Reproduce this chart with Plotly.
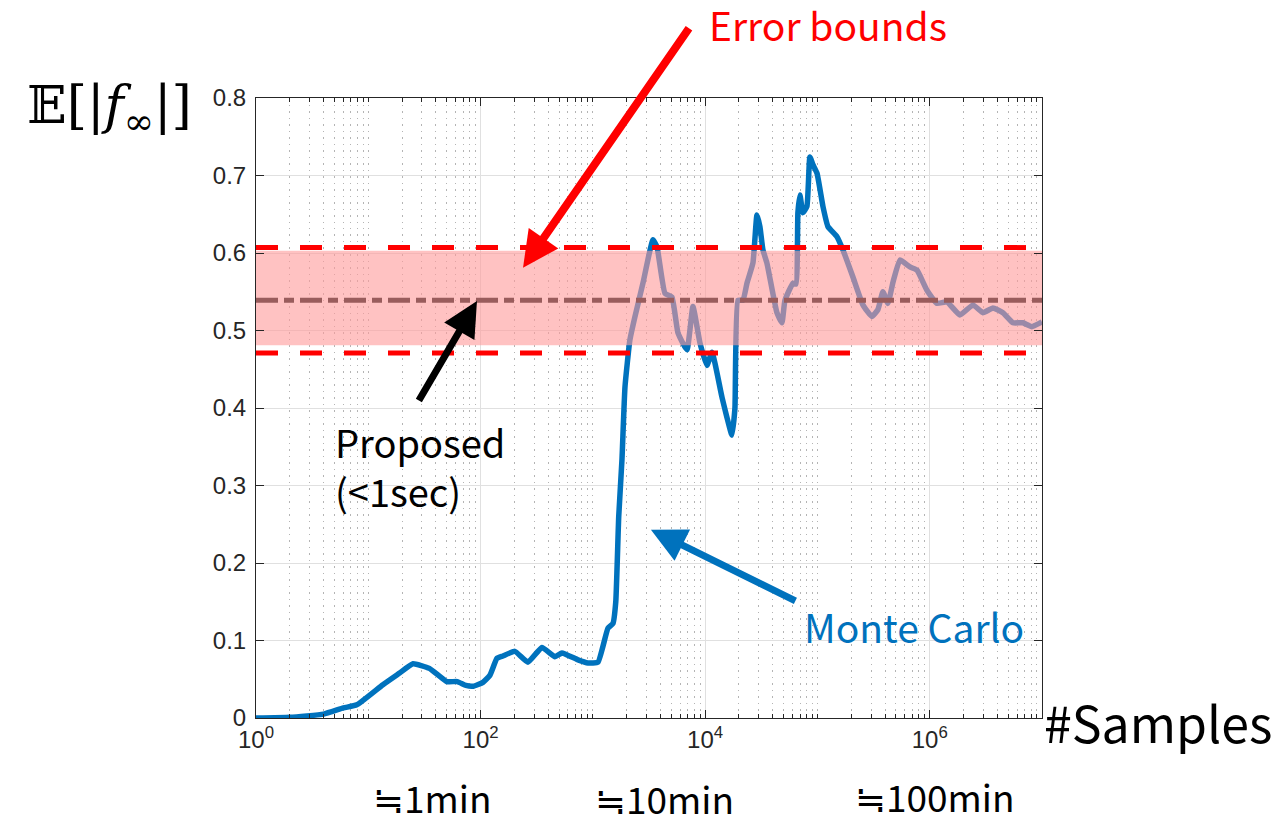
import plotly.graph_objects as go

# ---------------- data ----------------
samples = [1, 2.0, 4.0, 6.0, 7.9, 13.5, 19, 25, 35, 50, 62, 74, 86, 105, 121, 140, 158,
           202, 264, 352, 460, 531, 737, 904, 1110, 1363, 1510, 1600, 1700, 1816, 1932,
           2138, 2371, 2793, 3430, 3723, 4385, 5062, 5728, 6887, 7787, 8990, 10380,
           11510, 14120, 17330, 18420, 19590, 21720, 23570, 26650, 28930, 30760, 32710,
           35500, 43570, 48290, 51380, 60540, 64400, 67000, 69850, 74300, 80600, 85700,
           91200, 99100, 112000, 124100, 149300, 168700, 207100, 254200, 305600, 345800,
           383000, 424500, 470200, 543000, 666500, 769400, 944400, 1159000, 1422000,
           1858000, 2427000, 2978000, 3655000, 4487000, 5508000, 6761000, 8128000, 10000000]
monte_carlo = [0.000, 0.001, 0.005, 0.013, 0.017, 0.043, 0.058, 0.070, 0.064, 0.047, 0.047,
               0.042, 0.041, 0.046, 0.055, 0.077, 0.080, 0.086, 0.072, 0.091, 0.079, 0.084,
               0.075, 0.071, 0.072, 0.116, 0.122, 0.150, 0.260, 0.333, 0.427, 0.488, 0.518,
               0.561, 0.617, 0.608, 0.548, 0.543, 0.497, 0.475, 0.531, 0.484, 0.455, 0.472,
               0.414, 0.365, 0.400, 0.539, 0.539, 0.561, 0.587, 0.649, 0.634, 0.604, 0.587,
               0.523, 0.510, 0.539, 0.561, 0.560, 0.652, 0.675, 0.652, 0.660, 0.724, 0.714,
               0.703, 0.660, 0.634, 0.621, 0.604, 0.569, 0.533, 0.518, 0.527, 0.550, 0.535,
               0.562, 0.591, 0.582, 0.578, 0.552, 0.535, 0.537, 0.520, 0.533, 0.523, 0.529,
               0.523, 0.510, 0.510, 0.505, 0.511]

x_span = [1, 10000000]
proposed = [0.539, 0.539]
bound_upper = [0.607, 0.607]
bound_lower = [0.471, 0.471]
band_upper = [0.603, 0.603]
band_lower = [0.481, 0.481]

x_tickvals = [1, 100, 10000, 1000000]
x_ticktext = ["10<sup>0</sup>", "10<sup>2</sup>", "10<sup>4</sup>", "10<sup>6</sup>"]
y_tickvals = [0, 0.1, 0.2, 0.3, 0.4, 0.5, 0.6, 0.7, 0.8]
y_ticktext = ["0", "0.1", "0.2", "0.3", "0.4", "0.5", "0.6", "0.7", "0.8"]
time_labels = ["≒1min", "≒10min", "≒100min"]

BLUE = "#0072BD"
RED = "#FF0000"
TXT = "#262626"
JP = "Noto Sans CJK JP"

fig = go.Figure()

fig.add_trace(go.Scatter(x=samples, y=monte_carlo, mode="lines",
                         line=dict(color=BLUE, width=5.5, shape="spline", smoothing=0.4),
                         showlegend=False))
fig.add_trace(go.Scatter(x=x_span, y=proposed, mode="lines",
                         line=dict(color="black", width=5, dash="22px,6px,10px,6px"),
                         showlegend=False))
# shaded band drawn above the curves
fig.add_trace(go.Scatter(x=x_span, y=band_lower, mode="lines",
                         line=dict(width=0, color="rgba(0,0,0,0)"), showlegend=False))
fig.add_trace(go.Scatter(x=x_span, y=band_upper, mode="lines", fill="tonexty",
                         fillcolor="rgba(255,154,154,0.6)",
                         line=dict(width=0, color="rgba(0,0,0,0)"), showlegend=False))
for b in (bound_upper, bound_lower):
    fig.add_trace(go.Scatter(x=x_span, y=b, mode="lines",
                             line=dict(color=RED, width=5, dash="22px,22px"),
                             showlegend=False))

fig.update_layout(
    width=1288, height=818,
    margin=dict(l=256, r=246, t=98, b=100),
    paper_bgcolor="white", plot_bgcolor="white",
    font=dict(family="Liberation Sans, Arial", color=TXT),
)
fig.update_xaxes(
    type="log", range=[0, 7],
    tickmode="array", tickvals=x_tickvals, ticktext=x_ticktext,
    tickfont=dict(size=24, color=TXT, family="Liberation Sans, Arial"),
    ticks="inside", ticklen=8, tickcolor=TXT,
    showline=True, linecolor=TXT, linewidth=1, mirror="ticks",
    showgrid=True, gridcolor="#e0e0e0", gridwidth=1,
    zeroline=False,
    minor=dict(dtick="D1", ticks="inside", ticklen=4, tickcolor=TXT,
               showgrid=True, gridcolor="#b4b4b4", griddash="1.5px,5px", gridwidth=1),
)
fig.update_yaxes(
    range=[0, 0.8],
    tickmode="array", tickvals=y_tickvals, ticktext=y_ticktext,
    tickfont=dict(size=24, color=TXT, family="Liberation Sans, Arial"),
    ticks="inside", ticklen=8, tickcolor=TXT, ticklabelstandoff=4,
    showline=True, linecolor=TXT, linewidth=1, mirror="ticks",
    showgrid=True, gridcolor="#e0e0e0", gridwidth=1,
    zeroline=False,
)

# arrows
fig.add_annotation(x=2.378, y=0.581, xref="x", yref="y", text="", showarrow=True,
                   ax=167, ay=-241, arrowcolor=RED, arrowwidth=8, arrowhead=2, arrowsize=0.9)
fig.add_annotation(x=1.968, y=0.538, xref="x", yref="y", text="", showarrow=True,
                   ax=-59, ay=101, arrowcolor="black", arrowwidth=7, arrowhead=2, arrowsize=1)
fig.add_annotation(x=3.517, y=0.243, xref="x", yref="y", text="", showarrow=True,
                   ax=146, ay=72, arrowcolor=BLUE, arrowwidth=7, arrowhead=2, arrowsize=1)

# texts
def label(text, x, y, size, color, family=JP, xanchor="center", align="center"):
    fig.add_annotation(x=x, y=y, xref="paper", yref="paper", text=text,
                       xanchor=xanchor, yanchor="middle", align=align,
                       showarrow=False, font=dict(size=size, color=color, family=family))

label("Error bounds", 0.728, 1.12, 39, RED)
label("Proposed<br>(&lt;1sec)", 0.098, 0.406, 38, "black", xanchor="left", align="left")
label("Monte Carlo", 0.837, 0.148, 39, BLUE)
label("#Samples", 1.0, -0.005, 50, "black", xanchor="left")
for lbl, px, py in zip(time_labels, [0.224, 0.520, 0.864], [-0.127, -0.129, -0.125]):
    label(lbl, px, py, 37, "black")
label("𝔼[|<i>f</i><sub>∞</sub>|]", -0.186, 0.982, 52, "black", family="DejaVu Serif")

fig.write_html("out.html")
